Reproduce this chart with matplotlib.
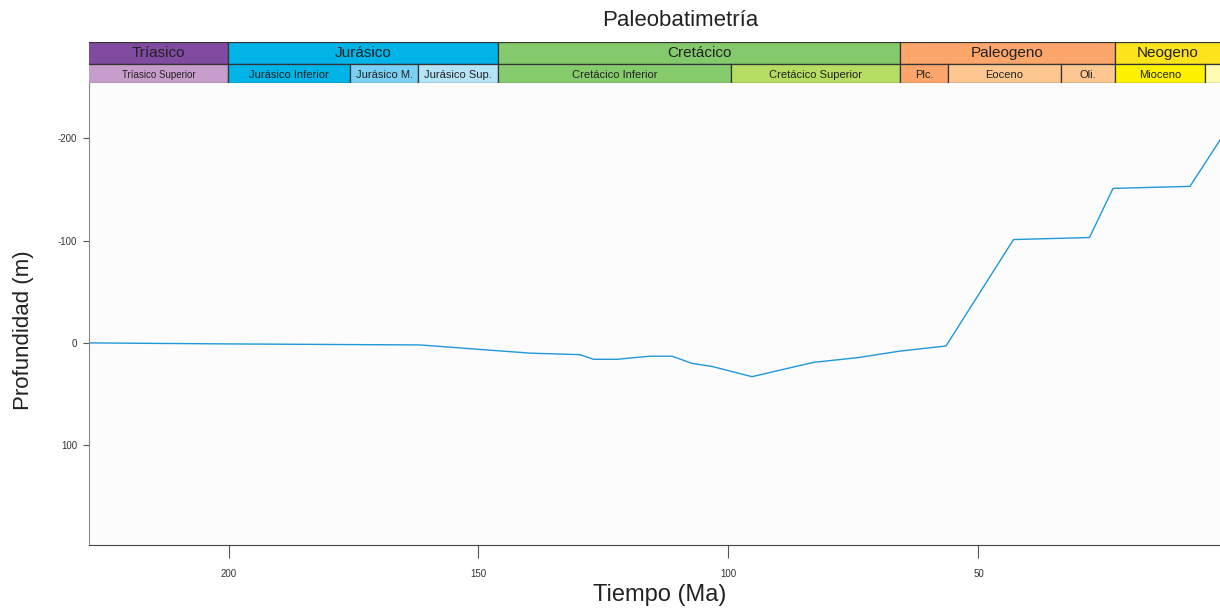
import matplotlib
matplotlib.use("Agg")
import matplotlib.pyplot as plt

plt.rcParams['font.family'] = ['Liberation Sans', 'DejaVu Sans']
plt.rcParams['axes.unicode_minus'] = False

# paleobathymetry curve (Ma, m; negative = above sea level)
edad = [227.9, 199.7, 161.7, 139.7, 129.7, 127.0, 122.3, 115.7, 111.3, 107.3, 103.3,
        95.3, 83.0, 74.3, 65.7, 56.5, 43.0, 27.8, 23.1, 7.7, 0.0]
profundidad = [0, 1, 2, 10, 11.5, 16, 16, 13, 13, 20, 23,
               33, 19, 14.5, 8, 3, -101, -103, -151, -153, -211]

# geological time scale (as drawn in the chart)
periodos = ['Tríasico', 'Jurásico', 'Cretácico', 'Paleogeno', 'Neogeno']
periodos_ini = [251.9, 200.1, 146.1, 65.7, 22.7]
periodos_fin = [200.1, 146.1, 65.7, 22.7, 0.0]

epocas = ['Tríasico Superior', 'Jurásico Inferior', 'Jurásico M.', 'Jurásico Sup.',
          'Cretácico Inferior', 'Cretácico Superior', 'Plc.', 'Eoceno', 'Oli.',
          'Mioceno', 'Plioceno']
epocas_ini = [237.0, 200.1, 175.7, 162.1, 146.1, 99.5, 65.7, 56.1, 33.5, 22.7, 4.7]
epocas_fin = [200.1, 175.7, 162.1, 146.1, 99.5, 65.7, 56.1, 33.5, 22.7, 4.7, 0.0]

colores_periodo = ['#7f4a9f', '#00b4e8', '#84c96c', '#fda66c', '#fde31c']
colores_epoca = ['#c79ecb', '#00b4e8', '#79d0f3', '#b6e4f7', '#86cb6c', '#b6dc61',
                 '#fda66c', '#fec690', '#fec690', '#fef200', '#fffbb0']

xmin, xmax = 227.9, 1.7

fig = plt.figure(figsize=(12.2, 6.09), dpi=100)
W, H = 1220, 609
ax = fig.add_axes([89 / W, (H - 545) / H, (W - 89) / W, (545 - 83) / H])
ax_s = fig.add_axes([89 / W, (H - 83) / H, (W - 89) / W, (83 - 42) / H], sharex=ax)

ax.set_facecolor('#fcfcfc')
ax.plot(edad, profundidad, color='#1f97d8', lw=1)
ax.set_xlim(xmin, xmax)
ax.set_ylim(197.5, -254)
ax.set_xticks([200, 150, 100, 50])
ax.set_yticks([-200, -100, 0, 100])
ax.tick_params(axis='x', length=9, width=0.8, pad=8, labelsize=7, color='#555555',
               labelcolor='#333333')
ax.tick_params(axis='y', length=4.5, width=0.8, pad=4, labelsize=7, color='#555555',
               labelcolor='#333333')
for s in ['top', 'right']:
    ax.spines[s].set_visible(False)
ax.spines['left'].set_color('#888888')
ax.spines['bottom'].set_color('#444444')

ax.set_xlabel('Tiempo (Ma)', fontsize=17, color='#222222')
ax.xaxis.set_label_coords(0.505, -0.084)
ax.set_ylabel('Profundidad (m)', fontsize=16, color='#222222')
ax.yaxis.set_label_coords(-0.049, 0.465)

fig.text(680 / W, 1 - 20 / H, 'Paleobatimetría', fontsize=16, ha='center', va='center',
         color='#222222')

# stratigraphic chart
ax_s.set_ylim(0, 1)
ax_s.axis('off')
top_h = 22 / 41
for nombre, a, b, c in zip(periodos, periodos_ini, periodos_fin, colores_periodo):
    ax_s.barh(1 - top_h / 2, b - a, left=a, height=top_h, color=c,
              edgecolor='#333333', linewidth=0.9)
    va, vb = min(a, xmin), max(b, xmax)
    ax_s.text((va + vb) / 2, 1 - top_h / 2, nombre, ha='center', va='center',
              fontsize=11, color='#222222')
for nombre, a, b, c in zip(epocas, epocas_ini, epocas_fin, colores_epoca):
    ax_s.barh((1 - top_h) / 2, b - a, left=a, height=1 - top_h, color=c,
              edgecolor='#333333', linewidth=0.9)
    va, vb = min(a, xmin), max(b, xmax)
    if nombre != 'Plioceno':
        fs = 7 if nombre == 'Tríasico Superior' else 8
        ax_s.text((va + vb) / 2, (1 - top_h) / 2 - 0.03, nombre, ha='center', va='center',
                  fontsize=fs, color='#222222')

fig.savefig('out.png', dpi=100)
